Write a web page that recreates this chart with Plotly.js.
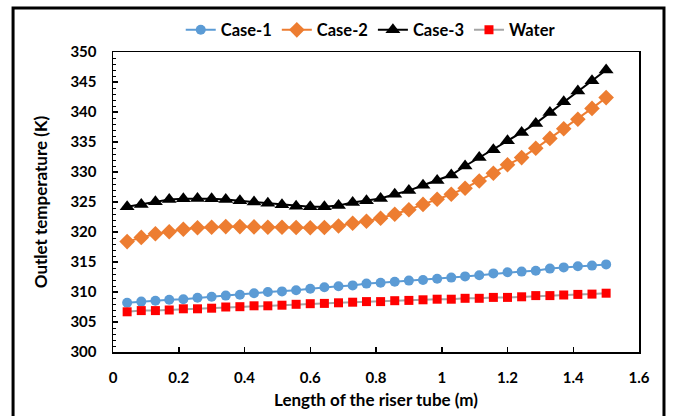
<!DOCTYPE html>
<html>
<head>
<meta charset="utf-8">
<script src="https://cdn.plot.ly/plotly-3.0.1.min.js"></script>
<style>html,body{margin:0;padding:0;background:#fff;}#chart{width:673px;height:416px;}</style>
</head>
<body>
<div id="chart"></div>
<script>
// x positions along the riser tube (m)
const lengthM = [0.043, 0.086, 0.129, 0.171, 0.214, 0.257, 0.300, 0.343, 0.386, 0.429,
                 0.471, 0.514, 0.557, 0.600, 0.643, 0.686, 0.729, 0.771, 0.814, 0.857,
                 0.900, 0.943, 0.986, 1.029, 1.071, 1.114, 1.157, 1.200, 1.243, 1.286,
                 1.329, 1.371, 1.414, 1.457, 1.500];

const case1 = [308.2, 308.4, 308.55, 308.7, 308.8, 309.05, 309.2, 309.4, 309.55, 309.8,
               310.0, 310.1, 310.3, 310.55, 310.8, 310.95, 311.1, 311.4, 311.55, 311.7,
               311.9, 312.0, 312.2, 312.4, 312.6, 312.8, 313.1, 313.3, 313.4, 313.55,
               313.9, 314.1, 314.3, 314.4, 314.6];

const case2 = [318.4, 319.1, 319.7, 320.05, 320.45, 320.7, 320.8, 320.9, 320.9, 320.85,
               320.8, 320.8, 320.75, 320.7, 320.75, 321.0, 321.45, 321.8, 322.3, 322.95,
               323.7, 324.6, 325.45, 326.3, 327.3, 328.5, 329.8, 331.2, 332.4, 333.95,
               335.6, 337.2, 338.8, 340.6, 342.4];

const case3 = [324.2, 324.6, 325.05, 325.4, 325.55, 325.6, 325.55, 325.4, 325.2, 325.0,
               324.8, 324.55, 324.3, 324.2, 324.2, 324.4, 324.9, 325.2, 325.6, 326.3,
               326.9, 327.8, 328.6, 329.5, 331.0, 332.4, 333.7, 335.2, 336.6, 338.1,
               339.9, 341.7, 343.5, 345.2, 347.0];

const water = [306.7, 306.9, 306.9, 307.0, 307.2, 307.2, 307.3, 307.5, 307.55, 307.7,
               307.7, 307.8, 307.95, 308.05, 308.1, 308.2, 308.3, 308.4, 308.4, 308.55,
               308.6, 308.7, 308.8, 308.8, 308.95, 308.95, 309.1, 309.1, 309.2, 309.4,
               309.4, 309.5, 309.6, 309.65, 309.8];

const seriesNames = ['Case-1', 'Case-2', 'Case-3', 'Water'];
const xTickVals = [0, 0.2, 0.4, 0.6, 0.8, 1, 1.2, 1.4, 1.6];
const xTickText = ['0', '0.2', '0.4', '0.6', '0.8', '1', '1.2', '1.4', '1.6'];

const FONT = 'Lato, "Open Sans", "DejaVu Sans", sans-serif';

const traces = [
  {x: lengthM, y: case1, name: seriesNames[0], mode: 'lines+markers',
   line: {color: '#5B9BD5', width: 2},
   marker: {symbol: 'circle', size: 10, color: '#5B9BD5'}},
  {x: lengthM, y: case2, name: seriesNames[1], mode: 'lines+markers',
   line: {color: '#ED7D31', width: 2},
   marker: {symbol: 'diamond', size: 12, color: '#ED7D31'}},
  {x: lengthM, y: case3, name: seriesNames[2], mode: 'lines+markers',
   line: {color: '#000000', width: 2},
   marker: {symbol: 'triangle-up', size: 13, color: '#000000'}},
  {x: lengthM, y: water, name: seriesNames[3], mode: 'lines+markers',
   line: {color: '#A5A5A5', width: 2},
   marker: {symbol: 'square', size: 9, color: '#FF0000'}}
];

const layout = {
  width: 673, height: 416,
  margin: {l: 113, r: 34, t: 52, b: 64},
  paper_bgcolor: '#ffffff', plot_bgcolor: '#ffffff',
  font: {family: FONT, color: '#000000'},
  showlegend: true,
  legend: {orientation: 'h', x: 0.49, xanchor: 'center', y: 1.073, yanchor: 'middle',
           font: {family: FONT, size: 16.5, weight: 'bold', color: '#000'},
           itemwidth: 30, bgcolor: 'rgba(0,0,0,0)', tracegroupgap: 0},
  xaxis: {
    range: [0, 1.6], tickvals: xTickVals, ticktext: xTickText,
    ticks: 'inside', ticklen: 5, tickwidth: 1.5, tickcolor: '#000',
    showline: true, linecolor: '#000', linewidth: 1.5, mirror: true,
    showgrid: false, zeroline: false,
    tickfont: {family: FONT, size: 15, weight: 'bold', color: '#000'},
    ticklabelstandoff: 11,
    title: {text: 'Length of the riser tube (m)', standoff: 9,
            font: {family: FONT, size: 17, weight: 'bold', color: '#000'}}
  },
  yaxis: {
    range: [300, 350], dtick: 5, tick0: 300,
    ticks: 'inside', ticklen: 5, tickwidth: 1.5, tickcolor: '#000',
    minor: {dtick: 1, ticks: 'inside', ticklen: 3, tickwidth: 1, tickcolor: '#000', showgrid: false},
    showline: true, linecolor: '#000', linewidth: 1.5, mirror: true,
    showgrid: false, zeroline: false,
    tickfont: {family: FONT, size: 15, weight: 'bold', color: '#000'},
    ticklabelstandoff: 12,
    title: {text: 'Outlet temperature (K)', standoff: 18,
            font: {family: FONT, size: 17, weight: 'bold', color: '#000'}}
  },
  shapes: [{
    type: 'rect', xref: 'paper', yref: 'paper',
    x0: -0.19, x1: 1.0475, y0: -0.35, y1: 1.1467,
    line: {color: '#000', width: 3}, fillcolor: 'rgba(0,0,0,0)', layer: 'above'
  }]
};

Plotly.newPlot('chart', traces, layout, {displayModeBar: false, staticPlot: true});
</script>
</body>
</html>
